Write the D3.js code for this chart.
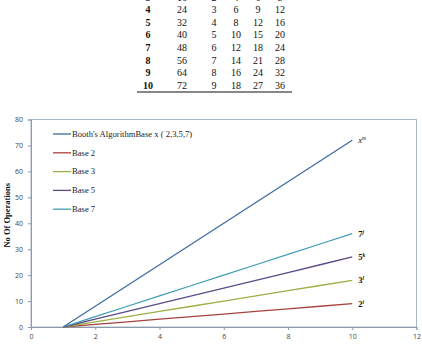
<!DOCTYPE html>
<html><head><meta charset="utf-8">
<script src="https://cdn.jsdelivr.net/npm/d3@7"></script>
<style>html,body{margin:0;padding:0;background:#fff;overflow:hidden}</style>
</head><body>
<svg id="c" width="422" height="346"></svg>
<script>
// Data
const n      = [1,2,3,4,5,6,7,8,9,10];
const booth  = [0,8,16,24,32,40,48,56,64,72];
const base2  = [0,1,2,3,4,5,6,7,8,9];
const base3  = [0,2,4,6,8,10,12,14,16,18];
const base5  = [0,3,6,9,12,15,18,21,24,27];
const base7  = [0,4,8,12,16,20,24,28,32,36];
const seriesNames = ["Booth's AlgorithmBase x ( 2,3,5,7)", "Base 2", "Base 3", "Base  5", "Base 7"];
const seriesColors = ["#3E6CA3", "#A8423E", "#9CB044", "#5C4A86", "#3F9DB3"];
const endLabels = [["x","m"],["2","i"],["3","l"],["5","k"],["7","j"]];
const tableRows = [3,4,5,6,7,8,9,10];
const xTicks = [0,2,4,6,8,10,12];
const yTicks = [0,10,20,30,40,50,60,70,80];

const svg = d3.select("#c");

// Table (partial, top cut off as in the reference)
const colX = [148,182,214,236,258,280];
const rowY = d3.scaleLinear().domain([3,4]).range([0.5,13.1]);
const tbl = svg.append("g").attr("font-family","'Liberation Serif', serif").attr("font-size",10).attr("fill","#111");
tableRows.forEach((r,i)=>{
  const idx = n.indexOf(r);
  const vals = [r, booth[idx], base2[idx], base3[idx], base5[idx], base7[idx]];
  vals.forEach((v,j)=>{
    tbl.append("text").attr("x",colX[j]).attr("y",rowY(r))
      .attr("text-anchor","middle").attr("font-weight", j===0?"bold":"normal").text(v);
  });
});
tbl.append("line").attr("x1",137).attr("x2",292).attr("y1",92).attr("y2",92).attr("stroke","#111").attr("stroke-width",1);

// Chart
const x = d3.scaleLinear().domain([0,12]).range([31,416.5]);
const y = d3.scaleLinear().domain([0,80]).range([327,119.5]);

const g = svg.append("g");
g.append("rect").attr("x",x(0)).attr("y",y(80)).attr("width",x(12)-x(0)).attr("height",y(0)-y(80))
  .attr("fill","none").attr("stroke","#A9B6C6").attr("stroke-width",1);

const xAxis = g.append("g").attr("transform",`translate(0,${y(0)})`)
  .call(d3.axisBottom(x).tickValues(xTicks).tickSize(3).tickPadding(4).tickFormat(d3.format("d")));
const yAxis = g.append("g").attr("transform",`translate(${x(0)},0)`)
  .call(d3.axisLeft(y).tickValues(yTicks).tickSize(3).tickPadding(5).tickFormat(d3.format("d")));
[xAxis,yAxis].forEach(a=>{
  a.select(".domain").attr("stroke","#8C9AAC");
  a.selectAll(".tick line").attr("stroke","#8C9AAC");
  a.selectAll("text").attr("font-family","'Open Sans', sans-serif").attr("font-size",7).attr("fill","#444");
});

g.append("text").attr("transform",`translate(10,${(y(0)+y(80))/2 - 8}) rotate(-90)`)
  .attr("text-anchor","middle").attr("font-family","'Liberation Serif', serif")
  .attr("font-weight","bold").attr("font-size",8.5).attr("fill","#111").text("No Of Operations");

const allSeries = [booth, base2, base3, base5, base7];
const line = d3.line().x((d,i)=>x(n[i])).y(d=>y(d));
[1,2,3,4,0].forEach(k=>{
  g.append("path").datum(allSeries[k]).attr("d",line).attr("fill","none")
    .attr("stroke",seriesColors[k]).attr("stroke-width",1.3);
});

// end labels
allSeries.forEach((s,k)=>{
  const t = g.append("text").attr("x",x(n[n.length-1])+6).attr("y",y(s[s.length-1])+3)
    .attr("font-family","'Liberation Serif', serif").attr("font-size",8.5).attr("fill","#111")
    .attr("font-weight", k===0?"normal":"bold").attr("font-style", k===0?"italic":"normal");
  t.append("tspan").text(endLabels[k][0]);
  t.append("tspan").attr("dy",-3).attr("font-size",5.5).attr("font-style","italic").text(endLabels[k][1]);
});

// legend
const leg = g.append("g");
seriesNames.forEach((name,k)=>{
  const ly = 134 + k*18.8;
  leg.append("line").attr("x1",53).attr("x2",71).attr("y1",ly).attr("y2",ly)
    .attr("stroke",seriesColors[k]).attr("stroke-width",1.3);
  leg.append("text").attr("x",72).attr("y",ly+2.8).attr("font-family","'Liberation Serif', serif")
    .attr("font-size",8.6).attr("fill","#222").text(name);
});
</script>
</body></html>
